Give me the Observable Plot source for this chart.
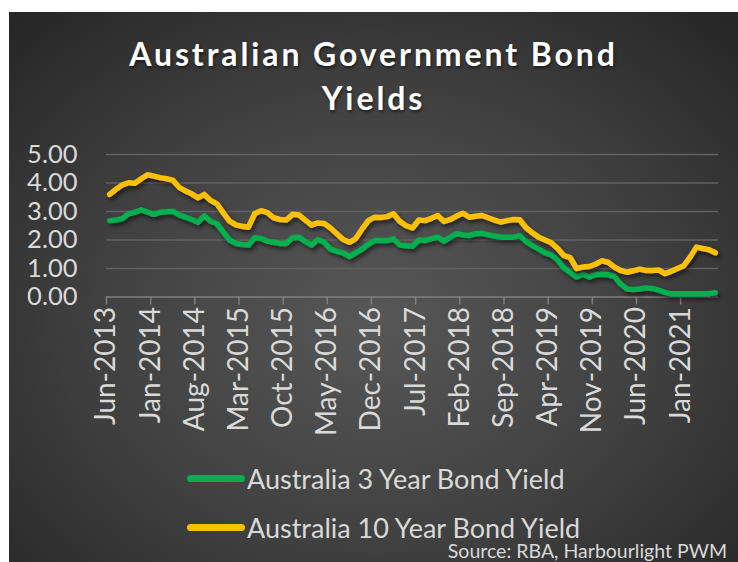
<!DOCTYPE html>
<html><head><meta charset="utf-8">
<script src="https://cdn.jsdelivr.net/npm/d3@7"></script>
<script src="https://cdn.jsdelivr.net/npm/@observablehq/plot@0.6"></script>
<style>
html,body{margin:0;padding:0;background:#fff;width:738px;height:562px;overflow:hidden;}
#panel{position:absolute;left:9px;top:12px;width:729px;height:550px;overflow:hidden;
  background:radial-gradient(ellipse 70% 75% at 50% 56%, #575757 0%, #404040 55%, #272727 100%);
  font-family:Lato,"Open Sans",sans-serif;color:#d9d9d9;}
#title{position:absolute;left:0;width:100%;top:20px;text-align:center;color:#fff;font-weight:bold;
  font-size:32px;letter-spacing:2.9px;line-height:44px;text-shadow:1px 2px 3px rgba(0,0,0,0.5);}
#chart{position:absolute;left:0;top:118px;}
.leg{position:absolute;left:178px;height:34px;display:flex;align-items:center;font-size:27px;color:#d9d9d9;}
.sw{width:58px;height:7px;border-radius:4px;margin-right:2px;}
#source{position:absolute;right:11px;top:527px;font-size:19.5px;color:#d9d9d9;}
</style></head>
<body>
<div id="panel">
  <div id="title">Australian Government Bond<br>Yields</div>
  <div id="chart"></div>
  <div class="leg" style="top:449px"><div class="sw" style="background:#00b050"></div><span>Australia 3 Year Bond Yield</span></div>
  <div class="leg" style="top:498px"><div class="sw" style="background:#ffc000"></div><span>Australia 10 Year Bond Yield</span></div>
  <div id="source">Source: RBA, Harbourlight PWM</div>
</div>
<script>
// Monthly, Jun-2013 .. Jun-2021 (97 months)
const bond3y = [2.68,2.70,2.75,2.92,2.98,3.06,2.98,2.90,2.97,2.99,
3.01,2.88,2.80,2.72,2.62,2.85,2.66,2.57,2.28,2.00,
1.88,1.84,1.82,2.08,2.05,1.96,1.92,1.88,1.88,2.08,
2.10,1.95,1.82,2.02,1.92,1.68,1.60,1.55,1.42,1.55,
1.68,1.85,1.98,1.98,1.98,2.04,1.82,1.80,1.78,2.00,
1.98,2.05,2.10,1.96,2.10,2.22,2.18,2.16,2.22,2.24,
2.18,2.14,2.10,2.10,2.10,2.15,1.95,1.80,1.68,1.55,
1.48,1.30,1.02,0.86,0.70,0.80,0.70,0.78,0.80,0.78,
0.72,0.45,0.28,0.26,0.28,0.32,0.30,0.24,0.16,0.11,
0.11,0.11,0.11,0.11,0.11,0.12,0.15];
const bond10y = [3.60,3.78,3.93,4.01,3.99,4.15,4.29,4.24,4.19,4.15,
4.10,3.85,3.72,3.62,3.48,3.60,3.39,3.27,2.95,2.66,
2.53,2.48,2.45,2.93,3.03,2.96,2.78,2.72,2.70,2.90,
2.88,2.70,2.52,2.60,2.58,2.42,2.22,2.02,1.92,2.05,
2.38,2.68,2.80,2.79,2.82,2.92,2.65,2.50,2.42,2.70,
2.68,2.76,2.86,2.65,2.72,2.84,2.94,2.80,2.83,2.86,
2.78,2.70,2.63,2.68,2.72,2.71,2.43,2.25,2.10,2.00,
1.90,1.70,1.45,1.38,1.00,1.05,1.07,1.15,1.27,1.22,
1.05,0.93,0.87,0.92,0.98,0.93,0.93,0.95,0.82,0.90,
1.00,1.10,1.40,1.75,1.70,1.66,1.55];
const xTickLabels = ["Jun-2013","Jan-2014","Aug-2014","Mar-2015","Oct-2015","May-2016","Dec-2016",
"Jul-2017","Feb-2018","Sep-2018","Apr-2019","Nov-2019","Jun-2020","Jan-2021"];
const xTickMonthIndex = [0,7,14,21,28,35,42,49,56,63,70,77,84,91];
const yTicks = [0,1,2,3,4,5];

const rows3 = bond3y.map((v,i)=>({m:i+0.5,v}));
const rows10 = bond10y.map((v,i)=>({m:i+0.5,v}));

const plot = Plot.plot({
  width:729, height:320,
  marginLeft:97, marginRight:20, marginTop:24, marginBottom:153.5,
  style:{background:"transparent", fontFamily:"Lato, 'Open Sans', sans-serif", overflow:"visible"},
  x:{domain:[0,97]},
  y:{domain:[0,5]},
  marks:[
    Plot.gridY([1,2,3,4,5],{stroke:"#626262", strokeOpacity:1, strokeWidth:1.5}),
    Plot.axisY(yTicks,{label:null, tickSize:0, tickPadding:29, fontSize:25.5, fill:"#d9d9d9", tickFormat:d=>d.toFixed(2)}),
    Plot.axisX(xTickMonthIndex,{label:null, tickSize:8, tickPadding:2, tickRotate:-90, fontSize:28, fill:"#d9d9d9", stroke:"#7f7f7f", strokeWidth:1.5,
      tickFormat:(d)=>xTickLabels[xTickMonthIndex.indexOf(d)]}),
    Plot.ruleY([0],{stroke:"#7f7f7f", strokeWidth:1.5}),
    Plot.line(rows3,{x:"m", y:"v", stroke:"#00b050", strokeWidth:5.5, strokeLinecap:"round", strokeLinejoin:"round"}),
    Plot.line(rows10,{x:"m", y:"v", stroke:"#ffc000", strokeWidth:5.5, strokeLinecap:"round", strokeLinejoin:"round"})
  ]
});
document.getElementById("chart").appendChild(plot);
const svg = d3.select(plot);
const defs = svg.insert("defs",":first-child");
const f = defs.append("filter").attr("id","shadow").attr("x","-10%").attr("y","-10%").attr("width","130%").attr("height","140%");
f.append("feDropShadow").attr("dx",2).attr("dy",3).attr("stdDeviation",2).attr("flood-color","#000").attr("flood-opacity",0.55);
svg.selectAll("g[aria-label='line']").attr("filter","url(#shadow)");
</script>
</body></html>
